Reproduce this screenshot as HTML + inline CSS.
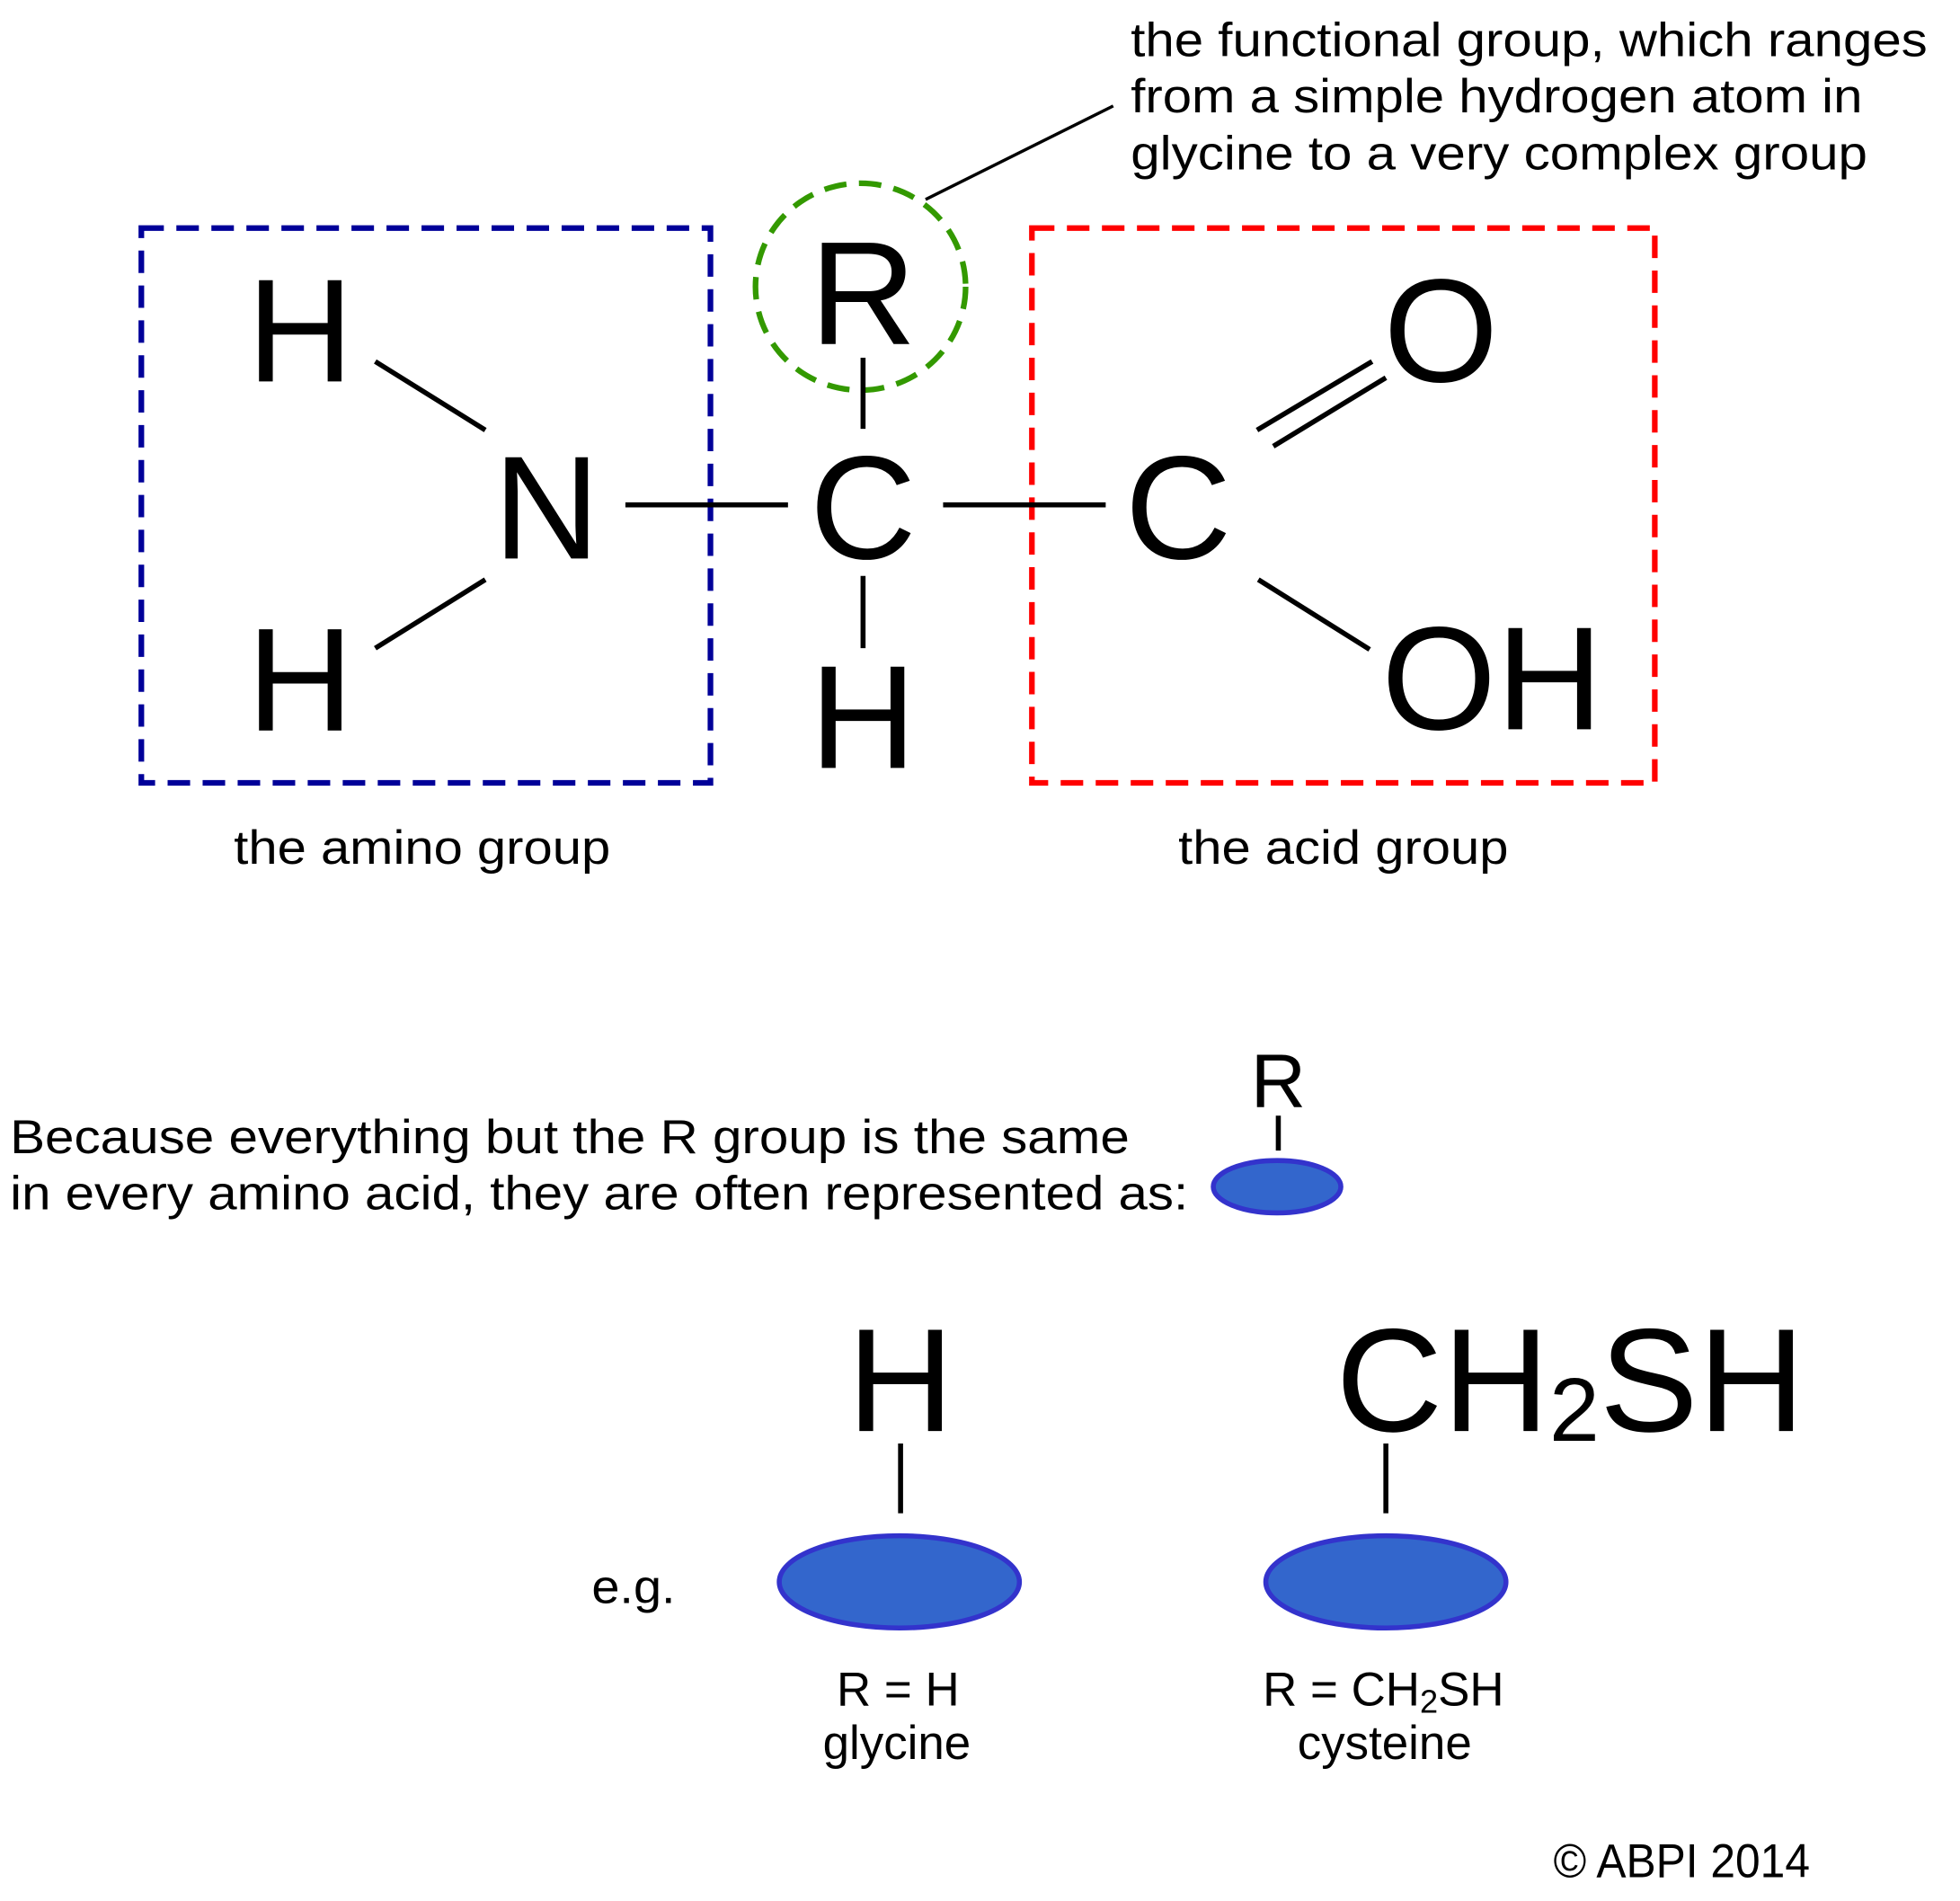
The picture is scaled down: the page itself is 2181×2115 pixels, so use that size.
<!DOCTYPE html>
<html><head><meta charset="utf-8"><style>
html,body{margin:0;padding:0;background:#fff;}
svg{display:block;}
text{font-family:"Liberation Sans",Arial,sans-serif;fill:#000;}
</style></head><body>
<svg width="2181" height="2115" viewBox="0 0 1567 1525" preserveAspectRatio="none" xmlns="http://www.w3.org/2000/svg">
<rect x="0" y="0" width="1567" height="1525" fill="#fff"/>
<rect x="113" y="183" width="455" height="445" fill="none" stroke="#000099" stroke-width="4.5" stroke-dasharray="18,10"/>
<rect x="825" y="183" width="498" height="445" fill="none" stroke="#ff0000" stroke-width="4.5" stroke-dasharray="18,10"/>
<ellipse cx="688" cy="230" rx="84" ry="83" fill="none" stroke="#339900" stroke-width="4.5" stroke-dasharray="18,10"/>
<line x1="740" y1="160" x2="890" y2="85" stroke="#000" stroke-width="2.5"/>
<g font-size="38">
<text x="904" y="45" textLength="637" lengthAdjust="spacingAndGlyphs">the functional group, which ranges</text>
<text x="904" y="90" textLength="585" lengthAdjust="spacingAndGlyphs">from a simple hydrogen atom in</text>
<text x="904" y="136" textLength="589" lengthAdjust="spacingAndGlyphs">glycine to a very complex group</text>
<text x="187" y="693" textLength="301" lengthAdjust="spacingAndGlyphs">the amino group</text>
<text x="942" y="693" textLength="264" lengthAdjust="spacingAndGlyphs">the acid group</text>
<text x="8" y="925" textLength="895" lengthAdjust="spacingAndGlyphs">Because everything but the R group is the same</text>
<text x="8" y="970" textLength="942" lengthAdjust="spacingAndGlyphs">in every amino acid, they are often represented as:</text>
<text x="473" y="1286" textLength="67" lengthAdjust="spacingAndGlyphs">e.g.</text>
<text x="718" y="1368" text-anchor="middle">R = H</text>
<text x="717" y="1411" text-anchor="middle">glycine</text>
<text x="1106" y="1368" text-anchor="middle">R = CH<tspan font-size="26" dy="6">2</tspan><tspan dy="-6">SH</tspan></text>
<text x="1107" y="1411" text-anchor="middle">cysteine</text>
<text x="1242" y="1506" textLength="205" lengthAdjust="spacingAndGlyphs">© ABPI 2014</text>
</g>
<g font-size="118" text-anchor="middle">
<text x="690" y="276">R</text>
<text x="240" y="306">H</text>
<text x="437" y="448">N</text>
<text x="690" y="448">C</text>
<text x="942" y="448">C</text>
<text x="1152" y="306">O</text>
<text x="1193" y="585">OH</text>
<text x="240" y="586">H</text>
<text x="690" y="616">H</text>
<text x="720" y="1148">H</text>
</g>
<text x="1068" y="1148" font-size="118" textLength="375" lengthAdjust="spacingAndGlyphs">CH<tspan font-size="72" dy="8">2</tspan><tspan dy="-8">SH</tspan></text>
<g stroke="#000" stroke-width="4" fill="none">
<line x1="300" y1="290" x2="388" y2="345"/>
<line x1="300" y1="520" x2="388" y2="465"/>
<line x1="500" y1="405" x2="630" y2="405"/>
<line x1="754" y1="405" x2="884" y2="405"/>
<line x1="690" y1="287" x2="690" y2="344"/>
<line x1="690" y1="462" x2="690" y2="520"/>
<line x1="1005" y1="345" x2="1097" y2="290"/>
<line x1="1018" y1="358" x2="1108" y2="303"/>
<line x1="1006" y1="465" x2="1095" y2="521"/>
<line x1="1022" y1="895" x2="1022" y2="923"/>
<line x1="720" y1="1158" x2="720" y2="1214"/>
<line x1="1108" y1="1158" x2="1108" y2="1214"/>
</g>
<text x="1022" y="888" font-size="61" text-anchor="middle">R</text>
<g fill="#3366cc" stroke="#3333cc" stroke-width="4">
<ellipse cx="1021" cy="952" rx="51" ry="21"/>
<ellipse cx="719" cy="1269" rx="96" ry="37"/>
<ellipse cx="1108" cy="1269" rx="96" ry="37"/>
</g>
</svg>
</body></html>
